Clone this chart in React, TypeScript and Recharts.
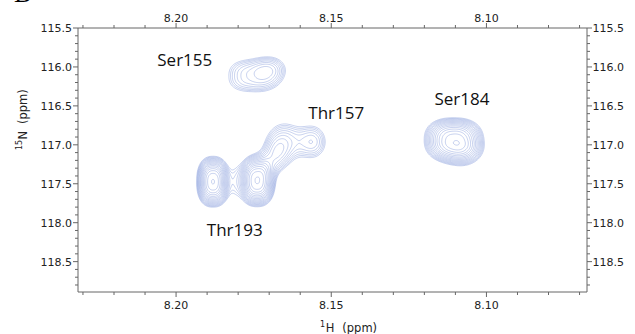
import { ComposedChart, Line, Scatter, XAxis, YAxis } from "recharts";

// spectral window (ppm)
const H_DOMAIN: [number, number] = [8.0676, 8.2316];
const N_DOMAIN: [number, number] = [115.5, 118.89];

const hTicks = [
  8.07, 8.08, 8.09, 8.1, 8.11, 8.12, 8.13, 8.14, 8.15, 8.16, 8.17, 8.18, 8.19,
  8.2, 8.21, 8.22, 8.23,
];
const hLabels = [8.1, 8.15, 8.2];
const nTicks = [
  115.5, 115.6, 115.7, 115.8, 115.9, 116, 116.1, 116.2, 116.3, 116.4, 116.5,
  116.6, 116.7, 116.8, 116.9, 117, 117.1, 117.2, 117.3, 117.4, 117.5, 117.6,
  117.7, 117.8, 117.9, 118, 118.1, 118.2, 118.3, 118.4, 118.5, 118.6, 118.7,
  118.8,
];
const nLabels = [115.5, 116, 116.5, 117, 117.5, 118, 118.5];

// cross peaks: centre, line widths (ppm), intensity, lineshape exponent
const peaks = [
  { h: 8.1881, n: 117.474, wh: 0.00316, wn: 0.196, amp: 5.5, q: 2.4 }, // Thr193
  { h: 8.1739, n: 117.462, wh: 0.00348, wn: 0.2, amp: 5.5, q: 2.4 },
  { h: 8.181, n: 117.474, wh: 0.0016, wn: 0.23, amp: 0.8, q: 2 },
  { h: 8.168, n: 117.154, wh: 0.0029, wn: 0.154, amp: 1.4, q: 2 },
  { h: 8.1652, n: 116.96, wh: 0.0042, wn: 0.195, amp: 1.9, q: 2 }, // Thr157
  { h: 8.1558, n: 116.962, wh: 0.0035, wn: 0.17, amp: 1.8, q: 2 },
  { h: 8.1758, n: 116.115, wh: 0.0065, wn: 0.18, amp: 1.9, q: 2.5 }, // Ser155
  { h: 8.1687, n: 116.038, wh: 0.0039, wn: 0.14, amp: 1.2, q: 2 },
  { h: 8.1106, n: 116.936, wh: 0.006, wn: 0.18, amp: 4.4, q: 2.4 }, // Ser184
  { h: 8.1077, n: 117.103, wh: 0.0043, wn: 0.15, amp: 1.0, q: 2 },
];

const levels = [
  1, 1.12, 1.25, 1.4, 1.57, 1.76, 1.97, 2.21, 2.48, 2.77, 3.11, 3.48, 3.9,
  4.36, 4.89, 5.47,
];

const assignments = [
  { name: "Ser155", h: 8.1972, n: 115.994 },
  { name: "Thr157", h: 8.1484, n: 116.667 },
  { name: "Ser184", h: 8.1079, n: 116.487 },
  { name: "Thr193", h: 8.1811, n: 118.176 },
];

type Pt = { h: number; n: number | null };

const STEP_H = 0.0003;
const STEP_N = 0.012;
const H0 = H_DOMAIN[0];
const N0 = N_DOMAIN[0];
const NX = Math.floor((H_DOMAIN[1] - H0) / STEP_H) + 1;
const NY = Math.floor((N_DOMAIN[1] - N0) / STEP_N) + 1;

function sampleSpectrum() {
  const v = new Float64Array(NX * NY);
  for (let j = 0; j < NY; j++) {
    const n = N0 + j * STEP_N;
    for (let i = 0; i < NX; i++) {
      const h = H0 + i * STEP_H;
      let s = 0;
      for (const p of peaks) {
        const dx = Math.abs(h - p.h) / p.wh;
        const dy = Math.abs(n - p.n) / p.wn;
        if (dx > 7 || dy > 7) continue;
        s += p.amp * Math.exp(-0.5 * (Math.pow(dx, p.q) + Math.pow(dy, p.q)));
      }
      v[j * NX + i] = s;
    }
  }
  return v;
}

// marching squares: cell edges 0 bottom, 1 right, 2 top, 3 left
const CASES: number[][] = [
  [], [3, 0], [0, 1], [3, 1], [1, 2], [3, 0, 1, 2], [0, 2], [3, 2],
  [2, 3], [0, 2], [0, 1, 2, 3], [1, 2], [1, 3], [0, 1], [3, 0], [],
];

function contourAt(v: Float64Array, level: number): Pt[] {
  const adj = new Map<number, number[]>();
  const edgeKey = (i: number, j: number, e: number) => {
    if (e === 0) return (j * NX + i) * 2;
    if (e === 1) return (j * NX + i + 1) * 2 + 1;
    if (e === 2) return ((j + 1) * NX + i) * 2;
    return (j * NX + i) * 2 + 1;
  };
  const edgePoint = (key: number): Pt => {
    const cell = Math.floor(key / 2);
    const i = cell % NX;
    const j = Math.floor(cell / NX);
    const a = v[j * NX + i];
    if (key % 2 === 0) {
      const t = (level - a) / (v[j * NX + i + 1] - a);
      return { h: H0 + (i + t) * STEP_H, n: N0 + j * STEP_N };
    }
    const t = (level - a) / (v[(j + 1) * NX + i] - a);
    return { h: H0 + i * STEP_H, n: N0 + (j + t) * STEP_N };
  };
  const link = (a: number, b: number) => {
    if (!adj.has(a)) adj.set(a, []);
    if (!adj.has(b)) adj.set(b, []);
    adj.get(a)!.push(b);
    adj.get(b)!.push(a);
  };

  for (let j = 0; j < NY - 1; j++) {
    for (let i = 0; i < NX - 1; i++) {
      const idx =
        (v[j * NX + i] > level ? 1 : 0) |
        (v[j * NX + i + 1] > level ? 2 : 0) |
        (v[(j + 1) * NX + i + 1] > level ? 4 : 0) |
        (v[(j + 1) * NX + i] > level ? 8 : 0);
      const segs = CASES[idx];
      for (let k = 0; k < segs.length; k += 2) {
        link(edgeKey(i, j, segs[k]), edgeKey(i, j, segs[k + 1]));
      }
    }
  }

  const out: Pt[] = [];
  for (const start of adj.keys()) {
    if (adj.get(start)!.length === 0) continue;
    let cur = start;
    out.push(edgePoint(cur));
    while (adj.get(cur)!.length) {
      const next = adj.get(cur)!.pop()!;
      const back = adj.get(next)!;
      back.splice(back.indexOf(cur), 1);
      out.push(edgePoint(next));
      cur = next;
    }
    out.push({ h: H0, n: null }); // break the path between rings
  }
  return out;
}

const spectrum = sampleSpectrum();
const contours = levels.map((lv) => contourAt(spectrum, lv));

const AXIS_FONT = "'DejaVu Sans', sans-serif";
const AXIS_COLOR = "#666";
const near = (list: number[], x: number) => list.some((m) => Math.abs(m - x) < 1e-6);

const makeTick = (side: "top" | "bottom" | "left" | "right") => (props: any) => {
  const { x, y, payload } = props;
  const val: number = payload.value;
  const major = side === "top" || side === "bottom" ? near(hLabels, val) : near(nLabels, val);
  const len = major ? 5 : 3;
  const text = side === "top" || side === "bottom" ? val.toFixed(2) : val.toFixed(1);
  const common = { fontFamily: AXIS_FONT, fontSize: 11, fill: "#222" };
  if (side === "bottom") {
    return (
      <g>
        <line x1={x} x2={x} y1={y} y2={y + len} stroke={AXIS_COLOR} />
        {major && <text x={x} y={y + 16.5} textAnchor="middle" {...common}>{text}</text>}
      </g>
    );
  }
  if (side === "top") {
    return (
      <g>
        <line x1={x} x2={x} y1={y} y2={y - len} stroke={AXIS_COLOR} />
        {major && <text x={x} y={y - 6} textAnchor="middle" {...common}>{text}</text>}
      </g>
    );
  }
  if (side === "left") {
    return (
      <g>
        <line x1={x - len} x2={x} y1={y} y2={y} stroke={AXIS_COLOR} />
        {major && <text x={x - 6} y={y + 4} textAnchor="end" {...common}>{text}</text>}
      </g>
    );
  }
  return (
    <g>
      <line x1={x} x2={x + len} y1={y} y2={y} stroke={AXIS_COLOR} />
      {major && <text x={x + 5.5} y={y + 4} textAnchor="start" {...common}>{text}</text>}
    </g>
  );
};

const HTitle = (props: any) => {
  const { x, y, width } = props.viewBox;
  const cx = x + width / 2;
  return (
    <text fontFamily={AXIS_FONT} fontSize={11.5} fill="#222">
      <tspan x={cx - 12.5} y={y + 34.5} fontSize={8}>1</tspan>
      <tspan x={cx - 6.8} y={y + 40}>H</tspan>
      <tspan x={cx + 9.8} y={y + 40}>(ppm)</tspan>
    </text>
  );
};

const NTitle = () => (
  <text transform="translate(27, 150) rotate(-90)" fontFamily={AXIS_FONT} fontSize={11.5} fill="#222">
    <tspan x={0} y={-5.5} fontSize={8}>15</tspan>
    <tspan x={10.5} y={0}>N</tspan>
    <tspan x={26} y={0}>(ppm)</tspan>
  </text>
);

const AssignmentLabel = (props: any) => (
  <text
    x={props.cx}
    y={props.cy}
    textAnchor="middle"
    fontFamily="'Open Sans', sans-serif"
    fontSize={17}
    fill="#111"
  >
    {props.payload.name}
  </text>
);

export default function App() {
  return (
    <div style={{ position: "absolute", left: 0, top: 0, width: 635, height: 334, background: "#fff" }}>
      <div
        style={{
          position: "absolute",
          left: 14,
          top: -21,
          fontFamily: "'Liberation Serif', serif",
          fontSize: 26,
          lineHeight: "30px",
          color: "#000",
        }}
      >
        D
      </div>
      <ComposedChart width={635} height={334} margin={{ top: 0, right: 0, bottom: 0, left: 0 }}>
        <XAxis
          xAxisId="bottom"
          orientation="bottom"
          type="number"
          dataKey="h"
          domain={H_DOMAIN}
          reversed
          allowDataOverflow
          ticks={hTicks}
          interval={0}
          height={42}
          tickSize={0}
          tickMargin={0}
          tickLine={false}
          axisLine={{ stroke: AXIS_COLOR }}
          tick={makeTick("bottom")}
          label={{ content: HTitle }}
        />
        <XAxis
          xAxisId="top"
          orientation="top"
          type="number"
          dataKey="h"
          domain={H_DOMAIN}
          reversed
          allowDataOverflow
          ticks={hTicks}
          interval={0}
          height={28}
          tickSize={0}
          tickMargin={0}
          tickLine={false}
          axisLine={{ stroke: AXIS_COLOR }}
          tick={makeTick("top")}
        />
        <YAxis
          yAxisId="left"
          orientation="left"
          type="number"
          dataKey="n"
          domain={N_DOMAIN}
          reversed
          allowDataOverflow
          ticks={nTicks}
          interval={0}
          width={78}
          tickSize={0}
          tickMargin={0}
          tickLine={false}
          axisLine={{ stroke: AXIS_COLOR }}
          tick={makeTick("left")}
          label={{ content: NTitle }}
        />
        <YAxis
          yAxisId="right"
          orientation="right"
          type="number"
          dataKey="n"
          domain={N_DOMAIN}
          reversed
          allowDataOverflow
          ticks={nTicks}
          interval={0}
          width={48}
          tickSize={0}
          tickMargin={0}
          tickLine={false}
          axisLine={{ stroke: AXIS_COLOR }}
          tick={makeTick("right")}
        />
        {contours.map((pts, k) => (
          <Line
            key={k}
            data={pts}
            dataKey="n"
            xAxisId="bottom"
            yAxisId="left"
            type="linear"
            stroke="#8ea2dc"
            strokeWidth={0.5}
            dot={false}
            activeDot={false}
            connectNulls={false}
            isAnimationActive={false}
          />
        ))}
        <Scatter
          data={assignments}
          xAxisId="bottom"
          yAxisId="left"
          shape={AssignmentLabel}
          isAnimationActive={false}
        />
      </ComposedChart>
    </div>
  );
}
